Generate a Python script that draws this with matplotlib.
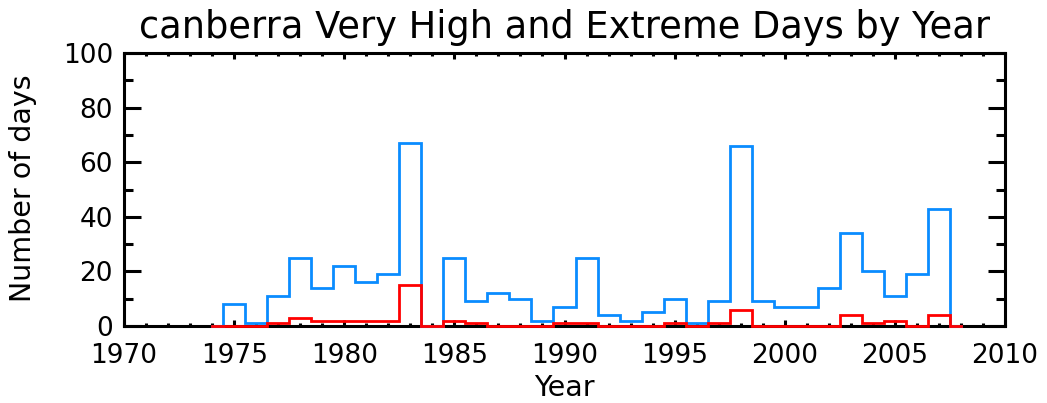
import matplotlib
matplotlib.use("Agg")
import matplotlib.pyplot as plt
from matplotlib.ticker import MultipleLocator

years = list(range(1974, 2009))
very_high = [0, 8, 1, 11, 25, 14, 22, 16, 19, 67,
             0, 25, 9, 12, 10, 2, 7, 25, 4, 2,
             5, 10, 1, 9, 66, 9, 7, 7, 14, 34,
             20, 11, 19, 43, 0]
extreme = [0, 0, 0, 1, 3, 2, 2, 2, 2, 15,
           0, 2, 1, 0, 0, 0, 1, 1, 0, 0,
           0, 1, 0, 1, 6, 0, 0, 0, 0, 4,
           1, 2, 0, 4, 0]

title = "canberra Very High and Extreme Days by Year"
xlabel = "Year"
ylabel = "Number of days"
xticks = [1970, 1975, 1980, 1985, 1990, 1995, 2000, 2005, 2010]
yticks = [0, 20, 40, 60, 80, 100]

W, H = 1047, 403
fig = plt.figure(figsize=(W / 100, H / 100), dpi=100)
L, R, T, B = 124, 1005, 53, 326
ax = fig.add_axes([L / W, (H - B) / H, (R - L) / W, (B - T) / H])

ax.plot(years, very_high, drawstyle="steps-mid", color="#0a8cff", lw=2.0,
        zorder=3, clip_on=False, solid_joinstyle="miter")
ax.plot(years, extreme, drawstyle="steps-mid", color="#ff0000", lw=2.0,
        zorder=4, clip_on=False, solid_joinstyle="miter")

ax.set_xlim(1970, 2010)
ax.set_ylim(0, 100)
ax.set_xticks(xticks)
ax.set_xticklabels([str(v) for v in xticks])
ax.set_yticks(yticks)
ax.set_yticklabels([str(v) for v in yticks])
ax.xaxis.set_minor_locator(MultipleLocator(1))
ax.yaxis.set_minor_locator(MultipleLocator(10))

for s in ax.spines.values():
    s.set_linewidth(2.2)
    s.set_zorder(2.5)

ax.tick_params(axis="x", which="major", direction="in", length=4.5, width=2.2,
               top=True, bottom=True, labelsize=19, pad=12)
ax.tick_params(axis="x", which="minor", direction="in", length=2.2, width=2.2,
               top=True, bottom=True)
ax.tick_params(axis="y", which="major", direction="in", length=12.5, width=2.2,
               left=True, right=True, labelsize=19, pad=8)
ax.tick_params(axis="y", which="minor", direction="in", length=6.2, width=2.2,
               left=True, right=True)

ax.set_xlabel(xlabel, fontsize=20.5)
ax.xaxis.set_label_coords(0.5, (B - 388) / (B - T))
ax.xaxis.label.set_va("center")
ax.set_ylabel(ylabel, fontsize=20.5)
ax.yaxis.set_label_coords((23 - L) / (R - L), 0.505)
ax.yaxis.label.set_va("center")

fig.text(565 / W, (H - 38) / H, title, fontsize=26.5, ha="center", va="baseline")

fig.savefig("out.png", dpi=100)
